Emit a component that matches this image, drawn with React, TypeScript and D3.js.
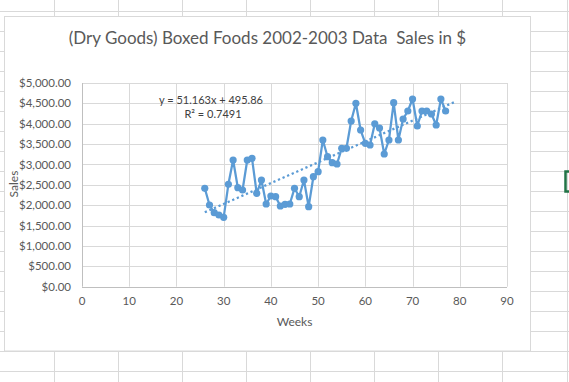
import React from "react";
import * as d3 from "d3";

const weeks: number[] = [
  26, 27, 28, 29, 30, 31, 32, 33, 34, 35, 36, 37, 38, 39, 40, 41, 42, 43, 44, 45, 46, 47, 48, 49, 50, 51,
  52, 53, 54, 55, 56, 57, 58, 59, 60, 61, 62, 63, 64, 65, 66, 67, 68, 69, 70, 71, 72, 73, 74, 75, 76, 77,
];
const sales: number[] = [
  2415, 2005, 1816, 1760, 1703, 2513, 3110, 2430, 2373, 3110, 3152, 2293, 2619, 2030, 2226, 2209, 1981, 2022,
  2030, 2415, 2209, 2619, 1964, 2700, 2823, 3601, 3191, 3044, 3012, 3397, 3397, 4067, 4502, 3846, 3520, 3478,
  3998, 3895, 3257, 3601, 4517, 3601, 4116, 4313, 4607, 3945, 4313, 4313, 4239, 3969, 4607, 4313,
];
const xTicks: number[] = [0, 10, 20, 30, 40, 50, 60, 70, 80, 90];
const yTicks: number[] = [0, 500, 1000, 1500, 2000, 2500, 3000, 3500, 4000, 4500, 5000];
const trendSlope = 51.163;
const trendIntercept = 495.86;
const trendRange: number[] = [26, 79];
const title = "(Dry Goods) Boxed Foods 2002-2003 Data  Sales in $";
const equationLines: string[] = ["y = 51.163x + 495.86", "R\u00B2 = 0.7491"];
const xTitle = "Weeks";
const yTitle = "Sales";

const W = 569;
const H = 382;
const FONT = "Lato, 'Open Sans', sans-serif";
const BLUE = "#5b9bd5";

export default function App() {
  const x = d3.scaleLinear().domain([0, 90]).range([82, 507]);
  const y = d3.scaleLinear().domain([0, 5000]).range([286.7, 83]);
  const fmt = (v: number) => "$" + d3.format(",.2f")(v);

  const data = weeks.map((w, i) => ({ w, v: sales[i] }));
  const line = d3
    .line<{ w: number; v: number }>()
    .x((d) => x(d.w))
    .y((d) => y(d.v));
  const trend = d3
    .line<number>()
    .x((d) => x(d))
    .y((d) => y(trendSlope * d + trendIntercept));

  const colLines = d3.range(0, 10).map((i) => 53.7 + i * 64.1);
  const rowLines = d3.range(0, 20).map((i) => 11 + i * 20);

  return (
    <svg
      width={W}
      height={H}
      style={{ position: "fixed", left: 0, top: 0, background: "#fff" }}
      fontFamily={FONT}
    >
      {/* spreadsheet grid */}
      <g stroke="#d9d9d9" strokeWidth={1}>
        {colLines.map((c, i) => (
          <line key={"c" + i} x1={Math.round(c) + 0.5} x2={Math.round(c) + 0.5} y1={0} y2={H} />
        ))}
        {rowLines.map((r, i) => (
          <line key={"r" + i} x1={0} x2={W} y1={r + 0.5} y2={r + 0.5} />
        ))}
      </g>
      {/* selected cell */}
      <rect x={565.5} y={171.5} width={20} height={20} fill="none" stroke="#217346" strokeWidth={2.5} />

      {/* chart area */}
      <rect x={4.5} y={16.5} width={526} height={334.5} fill="#fff" stroke="#d9d9d9" strokeWidth={1} />

      <text x={267.5} y={44} textAnchor="middle" fontSize={17} fill="#595959" style={{ whiteSpace: "pre" }}>
        {title}
      </text>

      {/* gridlines */}
      <g stroke="#d9d9d9" strokeWidth={1}>
        {yTicks.slice(1).map((t) => (
          <line key={"gy" + t} x1={x(0)} x2={x(90)} y1={Math.round(y(t)) + 0.5} y2={Math.round(y(t)) + 0.5} />
        ))}
        {xTicks.slice(1).map((t) => (
          <line key={"gx" + t} x1={Math.round(x(t)) + 0.5} x2={Math.round(x(t)) + 0.5} y1={y(5000)} y2={y(0)} />
        ))}
      </g>
      {/* axes */}
      <g stroke="#bfbfbf" strokeWidth={1}>
        <line x1={x(0)} x2={x(90)} y1={Math.round(y(0)) + 0.5} y2={Math.round(y(0)) + 0.5} />
        <line x1={Math.round(x(0)) + 0.5} x2={Math.round(x(0)) + 0.5} y1={y(5000)} y2={y(0)} />
      </g>

      {/* tick labels */}
      <g fontSize={11.5} fill="#595959">
        {yTicks.map((t) => (
          <text key={"ty" + t} x={71} y={y(t)} dy="0.35em" textAnchor="end">
            {fmt(t)}
          </text>
        ))}
        {xTicks.map((t) => (
          <text key={"tx" + t} x={x(t)} y={301} dy="0.35em" textAnchor="middle">
            {t}
          </text>
        ))}
      </g>
      <text x={294.5} y={322} dy="0.35em" textAnchor="middle" fontSize={12} fill="#595959">
        {xTitle}
      </text>
      <text
        transform={`translate(14,184) rotate(-90)`}
        dy="0.35em"
        textAnchor="middle"
        fontSize={12}
        fill="#595959"
      >
        {yTitle}
      </text>

      {/* data */}
      <path d={line(data) || ""} fill="none" stroke={BLUE} strokeWidth={2.25} strokeLinejoin="round" />
      {data.map((d, i) => (
        <circle key={"p" + i} cx={x(d.w)} cy={y(d.v)} r={3.6} fill={BLUE} />
      ))}
      <path
        d={trend(trendRange) || ""}
        fill="none"
        stroke={BLUE}
        strokeWidth={2.25}
        strokeDasharray="2.25 2.75"
      />

      {/* equation */}
      <g fontSize={11} fill="#404040" textAnchor="middle">
        <text x={211} y={100} dy="0.35em">
          {equationLines[0]}
        </text>
        <text x={213} y={114.5} dy="0.35em">
          {equationLines[1]}
        </text>
      </g>
    </svg>
  );
}
